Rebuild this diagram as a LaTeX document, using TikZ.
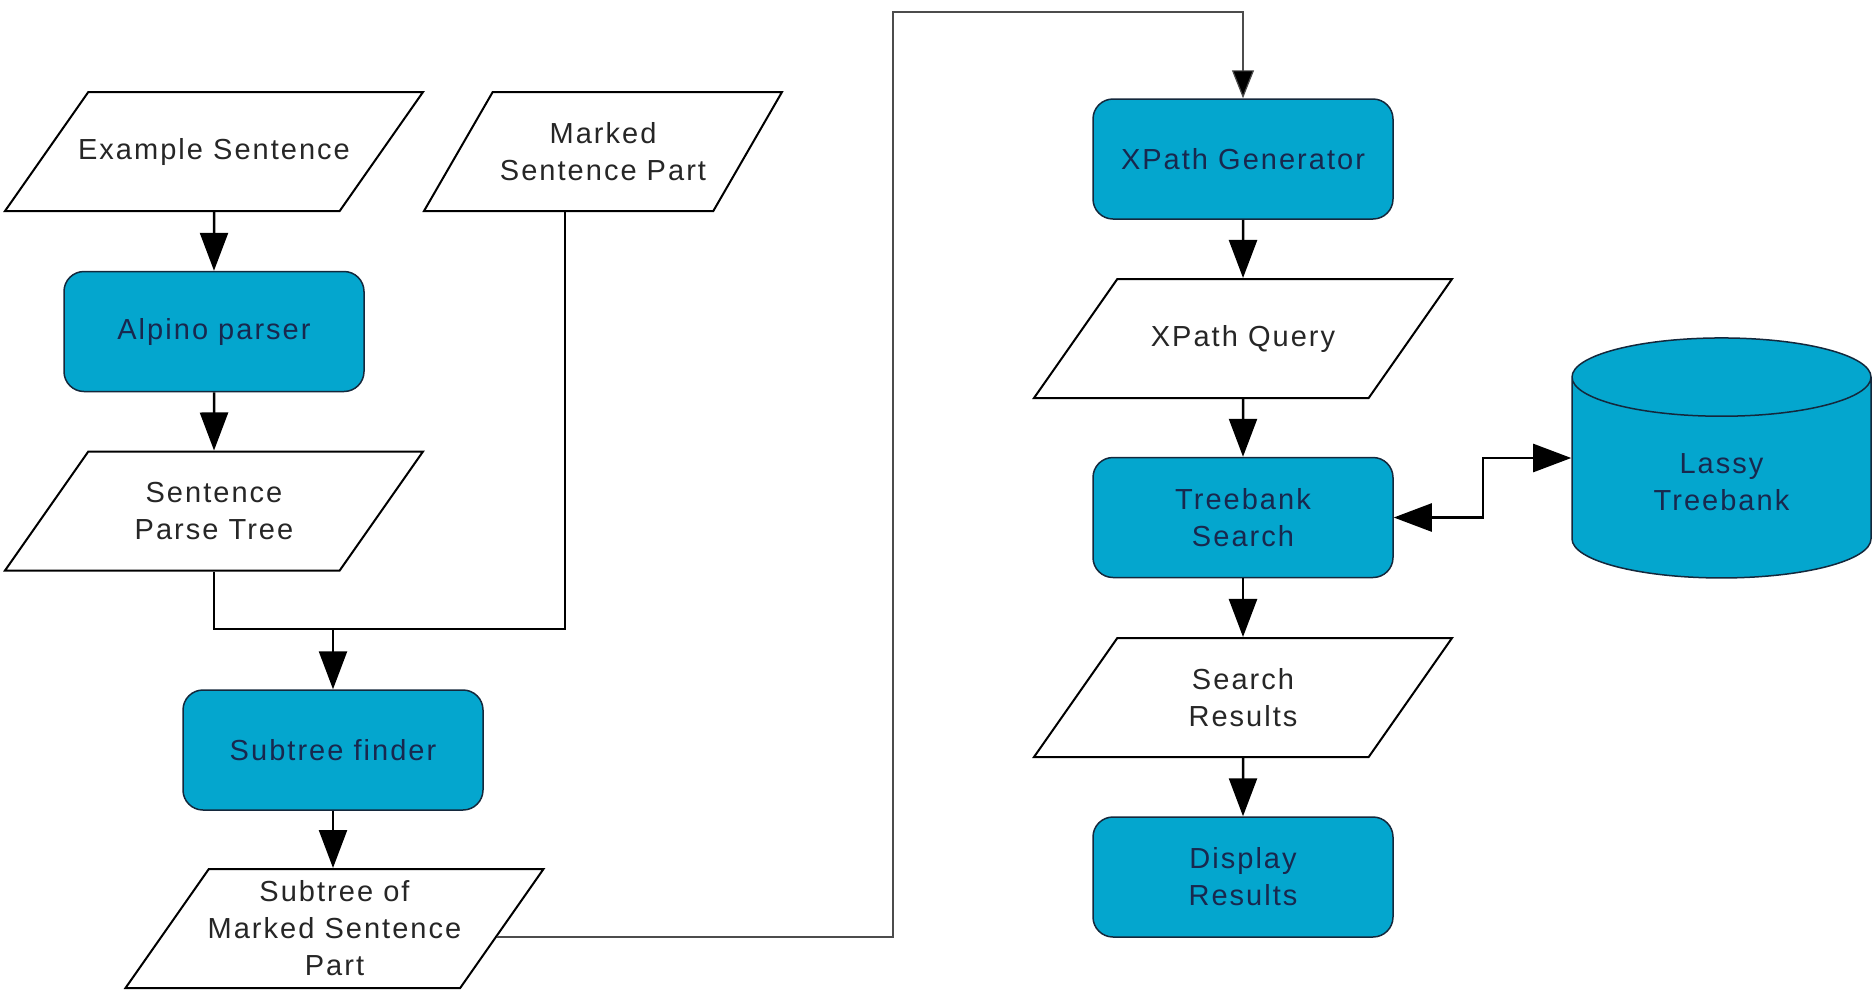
\documentclass[tikz,border=0pt]{standalone}
\usepackage{fontspec}
\setmainfont{Liberation Sans}[LetterSpace=7]
\usetikzlibrary{arrows.meta,shapes.geometric,calc,positioning}

\definecolor{procblue}{RGB}{4,166,206}
\definecolor{proctext}{RGB}{24,40,78}
\definecolor{procline}{RGB}{20,40,60}

\begin{document}
\begin{tikzpicture}[x=1pt, y=-1pt, >={Triangle[length=38pt, width=28pt]},
    every node/.style={font=\fontsize{29}{37}\selectfont},
    data/.style={trapezium, trapezium left angle=55, trapezium right angle=125,
      trapezium stretches body=true, draw=black, line width=2pt, fill=white, text=black!85,
      minimum width=418pt, minimum height=119pt, inner sep=0pt,
      execute at begin node={\begin{minipage}[c][119pt][c]{200pt}\centering
        \leftskip=-100pt plus 1fil\rightskip=-100pt plus 1fil},
      execute at end node={\end{minipage}}},
    proc/.style={rectangle, rounded corners=20pt, draw=procline, line width=1.5pt, align=center,
      fill=procblue, text=proctext, minimum width=300pt, minimum height=120pt},
    db/.style={cylinder, shape border rotate=90, aspect=0.55, draw=procline, line width=1.5pt,
      align=center, fill=procblue, text=proctext, minimum width=299pt, minimum height=240pt},
    flow/.style={line width=2.5pt, ->},
    line/.style={line width=2.5pt},
    link/.style={line width=1.2pt, black!70, -{Triangle[length=28pt, width=22pt, fill=black]}}]
  \useasboundingbox (0,0) rectangle (1872,989);

  % left column
  \node[data] (ex) at (214,151.5) {Example Sentence};
  \node[proc] (alp) at (214,331.5) {Alpino parser};
  \node[data] (ptree) at (214,511) {Sentence\\Parse Tree};
  \node[data, trapezium left angle=60, trapezium right angle=120, minimum width=358pt]
    (mk) at (603,151.5) {Marked\\Sentence Part};
  \node[proc] (find) at (333,750) {Subtree finder};
  \node[data] (sub) at (334.5,928.5) {Subtree of\\Marked Sentence\\Part};

  % right column
  \node[proc] (gen) at (1243,159) {XPath Generator};
  \node[data] (query) at (1243,338.5) {XPath Query};
  \node[proc] (search) at (1243,517.5) {Treebank\\Search};
  \node[data] (res) at (1243,697.5) {Search\\Results};
  \node[proc] (disp) at (1243,877) {Display\\Results};
  \node[db] (lassy) at (1721.5,482) {Lassy\\Treebank};

  \coordinate (join) at (333,629);
  \coordinate (mkdown) at (565,629);
  \coordinate (over) at (893,12);

  \draw[flow] (ex) -- (alp);
  \draw[flow] (alp) -- (ptree);
  \draw[line] (ptree.south) |- (join);
  \draw[line] (mkdown |- mk.south) -- (mkdown) -- (join);
  \draw[flow] (join) -- (find.north);
  \draw[flow] (find.south) -- (find.south |- sub.north);
  \draw[link] ($(sub.bottom right corner)!0.43!(sub.top right corner)$) -| (over) -| (gen.north);

  \draw[flow] (gen) -- (query);
  \draw[flow] (query) -- (search);
  \draw[flow] (search) -- (res);
  \draw[flow] (res) -- (disp);
  \draw[flow, <->] (search.east) -- ++(89,0) |- ([yshift=24pt]lassy.west);
\end{tikzpicture}
\end{document}
